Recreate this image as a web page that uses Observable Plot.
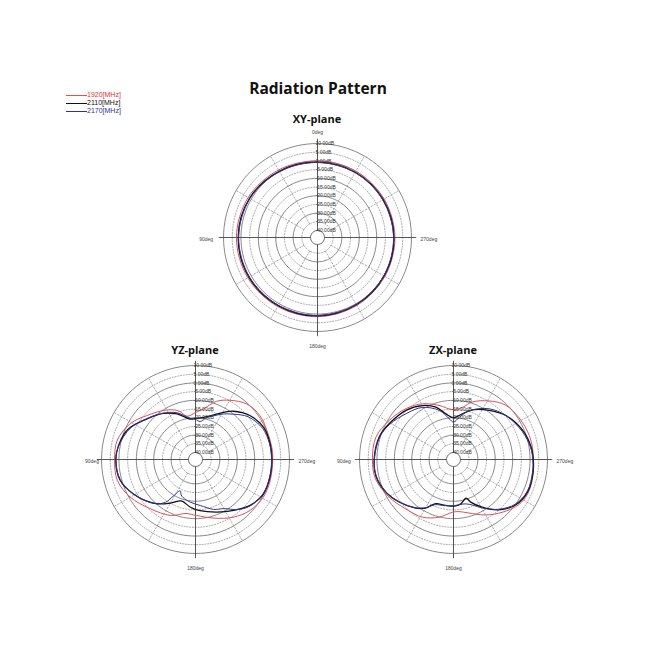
<!DOCTYPE html>
<html><head><meta charset="utf-8">
<script src="https://cdn.jsdelivr.net/npm/d3@7"></script>
<script src="https://cdn.jsdelivr.net/npm/@observablehq/plot@0.6"></script>
<style>
body{margin:0;background:#fff;font-family:"Open Sans","Noto Sans",sans-serif;}
#page{position:relative;width:650px;height:650px;overflow:hidden;background:#fff;}
.abs{position:absolute;}
.ptitle{position:absolute;font-weight:700;font-size:11px;color:#111;transform:translateX(-50%);white-space:nowrap;}
</style></head><body><div id="page"></div>
<script>
// ---------- data ----------
const chartTitle = "Radiation Pattern";
const freqLabels = ["1920[MHz]", "2110[MHz]", "2170[MHz]"];
const ringLevels = [10, 5, 0, -5, -10, -15, -20, -25, -30, -35, -40];
const spokeAngles = [30, 60, 120, 150, 210, 240, 300, 330];
const axisAngles = [0, 90, 180, 270];
const degLabels = ["0deg", "90deg", "180deg", "270deg"];
const planeNames = ["XY-plane", "YZ-plane", "ZX-plane"];

// XY-plane (angle in deg, gain in dB)
const xyDeg  = [0, 30, 60, 90, 120, 150, 180, 210, 240, 270, 300, 330];
const xy1920 = [0.0, 0.8, 2.0, 2.6, 2.3, 1.8, 1.5, 1.1, 0.7, 0.5, 0.2, 0.0];
const xy2110 = [-0.7, -0.1, 1.1, 1.6, 1.5, 1.2, 1.0, 0.6, 0.2, -0.1, -0.5, -0.7];
const xy2170 = [-0.9, -0.3, 0.8, 1.3, 1.2, 1.0, 0.8, 0.4, 0.0, -0.3, -0.7, -0.9];

// YZ-plane
const yz1920Deg = [0, 11, 19, 30, 48, 61, 76, 90, 105, 120, 137, 156, 170, 181, 197, 213, 227, 241, 254, 270, 279, 292, 304, 317, 330, 340, 351];
const yz1920    = [-17, -18.7, -14.5, -11.1, -6.3, -1.3, 2.3, 2.5, 2.5, -0.7, -5.5, -8.8, -12.5, -11.8, -8.8, -4.4, -1.1, 0.6, 0.6, 0.4, 0.4, 0.3, 0.8, -0.5, -4.7, -8.4, -14.5];
const yz2110Deg = [0, 8, 22, 35, 50, 64, 70, 80, 90, 105, 119, 137, 150, 161, 174, 185, 202, 217, 230, 243, 257, 270, 282, 295, 309, 322, 329, 345];
const yz2110    = [-20.5, -20.5, -15.7, -11.7, -7.6, -2.1, -0.5, 1.0, 1.8, 1.0, -3.2, -9.5, -15.0, -18.8, -16.4, -14.5, -11.4, -7.4, -3.0, -0.2, 0.0, -0.1, -0.2, -0.7, -3.8, -8.8, -12.4, -18.5];
const yz2170Deg = [0, 8, 22, 35, 50, 64, 80, 90, 105, 119, 137, 145, 149, 154, 158, 162, 173, 186, 200, 210, 220, 229, 243, 257, 270, 282, 295, 309, 320, 329, 338, 345, 353];
const yz2170    = [-21, -20, -15, -11.5, -7.5, -2.5, 0.8, 1.8, 0.8, -3.2, -9.5, -14, -19.7, -24, -22, -21, -19.3, -17.4, -13.5, -11.4, -6.5, -3.0, -0.5, -0.2, -0.3, -0.5, -1.5, -5.0, -10, -13.5, -17, -19, -22];

// ZX-plane
const zx1920Deg = [0, 15, 29, 43, 59, 74, 90, 104, 120, 136, 152, 166, 179, 186, 196, 210, 223, 235, 245, 258, 270, 284, 298, 316, 329, 342, 350];
const zx1920    = [-15.5, -11.8, -7.4, -4.0, -0.7, 2.4, 2.6, 2.2, -1.1, -4.5, -6.4, -9.9, -13.7, -13.9, -12.0, -7.2, -2.6, 1.5, 3.0, 2.6, 2.0, 1.8, 1.0, -0.7, -4.7, -9.3, -13.5];
const zx2110Deg = [0, 9.5, 18.6, 30, 44, 61, 73, 90, 102, 116, 128, 142, 150, 158, 170, 181, 189, 198, 202, 211, 222, 234, 247, 261, 270, 279, 293, 310, 324, 339, 349];
const zx2110    = [-20, -17.4, -12.2, -8.2, -4.7, -1.7, 0.6, 1.6, 1.6, -0.9, -4.3, -8.6, -11.8, -16.6, -17.2, -17.2, -18.1, -20.6, -17.6, -12, -5.1, 0.3, 2.5, 2.3, 1.8, 1.2, -0.9, -4.7, -9.1, -13.4, -17.2];
const zx2170Deg = [0, 6, 16, 31, 46, 61, 73, 90, 102, 116, 128, 142, 150, 158, 169, 181, 195, 203, 211, 222, 234, 247, 261, 270, 279, 292, 310, 325, 342, 352];
const zx2170    = [-22.5, -20.4, -14.7, -9.1, -6.1, -2.2, 0.3, 1.5, 1.4, -1.0, -4.5, -8.8, -12, -16, -17, -17.5, -17.6, -15.5, -11.4, -5.5, -0.2, 2.2, 2.0, 1.6, 0.8, -1.3, -4.7, -8.4, -14.5, -19.5];

// ---------- styles ----------
const colors = ["#e0505a", "#111111", "#2b3595"];
const widths = [1, 1.3, 1];

// ---------- helpers ----------
const K = 1.74;          // px per dB
const R0 = 4;            // inner offset (dB units) so the -40 dB ring sits a few px from centre
const S = 260;           // svg size
const half = S / 2 / K;  // domain half-extent in rho units
const rho = dB => dB + 40 + R0;
const toXY = (deg, r) => ({x: -r * Math.sin(deg * Math.PI / 180), y: r * Math.cos(deg * Math.PI / 180)});
const circleSteps = d3.range(0, 360, 3);
const ringLabels = ringLevels.map(v => v.toFixed(2) + "dB");

function series(degs, vals) {
  return degs.map((d, i) => toXY(d, rho(vals[i])));
}

function polar(curves, showTop, leftGap, rightGap) {
  const outer = rho(10);
  const rings = ringLevels.flatMap(lv => circleSteps.map(a => ({...toXY(a, rho(lv)), lv})));
  const solidRings = rings.filter(d => d.lv % 10 === 0 && d.lv !== -40);
  const dotRings = rings.filter(d => d.lv % 10 !== 0);
  const inner = circleSteps.map(a => toXY(a, rho(-40)));
  const spokes = spokeAngles.flatMap(a => [{...toXY(a, rho(-35)), a}, {...toXY(a, outer), a}]);
  const axes = axisAngles.flatMap(a => [{...toXY(a, 0), a}, {...toXY(a, outer + 2.5), a}]);
  const labelPts = ringLevels.map((lv, i) => ({...toXY(0, rho(lv)), t: ringLabels[i]}));
  const degPts = [
    {...toXY(0, outer + 7.5), t: degLabels[0], anchor: "middle"},
    {...toXY(90, outer + leftGap), t: degLabels[1], anchor: "end"},
    {...toXY(180, outer + 7.5), t: degLabels[2], anchor: "middle"},
    {...toXY(270, outer + rightGap), t: degLabels[3], anchor: "start"}
  ].filter((d, i) => showTop || i !== 0);
  const marks = [
    Plot.line(solidRings, {x: "x", y: "y", z: "lv", curve: "linear-closed", stroke: "#6a6a6a", strokeWidth: 0.8}),
    Plot.line(dotRings, {x: "x", y: "y", z: "lv", curve: "linear-closed", stroke: "#8a8a8a", strokeWidth: 0.7, strokeDasharray: "1.2,1.6"}),
    Plot.line(spokes, {x: "x", y: "y", z: "a", stroke: "#8a8a8a", strokeWidth: 0.7, strokeDasharray: "1.5,1.8"}),
    Plot.line(axes, {x: "x", y: "y", z: "a", stroke: "#444", strokeWidth: 0.9})
  ];
  curves.forEach((c, i) => {
    marks.push(Plot.line(c, {x: "x", y: "y", curve: "catmull-rom-closed", stroke: colors[i], strokeWidth: widths[i]}));
  });
  marks.push(
    Plot.line(inner, {x: "x", y: "y", curve: "linear-closed", fill: "white", stroke: "#444", strokeWidth: 0.9}),
    Plot.text(labelPts, {x: "x", y: "y", text: "t", textAnchor: "start", dx: -2, dy: 0, fontSize: 5, fill: "#333"}),
    Plot.text(degPts, {x: "x", y: "y", text: "t", textAnchor: "anchor", fontSize: 5, fill: "#444", dy: 2})
  );
  return Plot.plot({
    width: S, height: S, margin: 0,
    x: {domain: [-half, half], axis: null},
    y: {domain: [-half, half], axis: null},
    style: {background: "transparent", fontFamily: "Arial, 'Liberation Sans', sans-serif"},
    marks
  });
}

// ---------- layout ----------
const page = document.getElementById("page");
function place(el, left, top) { el.classList.add("abs"); el.style.left = left + "px"; el.style.top = top + "px"; page.appendChild(el); }

const planes = [
  {name: planeNames[0], cx: 317, cy: 237, ty: 111, top: true, lg: 10, rg: 10,
   curves: [series(xyDeg, xy1920), series(xyDeg, xy2110), series(xyDeg, xy2170)]},
  {name: planeNames[1], cx: 195, cy: 459, ty: 342, top: false, lg: 5.5, rg: 10,
   curves: [series(yz1920Deg, yz1920), series(yz2110Deg, yz2110), series(yz2170Deg, yz2170)]},
  {name: planeNames[2], cx: 453, cy: 459, ty: 342, top: false, lg: 9, rg: 10,
   curves: [series(zx1920Deg, zx1920), series(zx2110Deg, zx2110), series(zx2170Deg, zx2170)]}
];
planes.forEach(p => {
  const svg = polar(p.curves, p.top, p.lg, p.rg);
  place(svg, p.cx - S / 2, p.cy - S / 2);
});
planes.forEach(p => {
  const t = document.createElement("div");
  t.className = "ptitle";
  t.textContent = p.name;
  t.style.left = p.cx + "px"; t.style.top = p.ty + "px";
  page.appendChild(t);
});

const title = document.createElement("div");
title.textContent = chartTitle;
title.style.cssText = "position:absolute;left:318px;top:77px;transform:translateX(-50%);font-weight:700;font-size:15.5px;color:#111;white-space:nowrap;";
page.appendChild(title);

const legend = document.createElement("div");
legend.style.cssText = "position:absolute;left:66px;top:91px;font-family:Arial,'Liberation Sans',sans-serif;font-size:7px;line-height:8px;";
freqLabels.forEach((lab, i) => {
  const row = document.createElement("div");
  row.style.cssText = "display:flex;align-items:center;height:8px;";
  const ln = document.createElement("span");
  ln.style.cssText = `display:inline-block;width:21px;height:0;border-top:1px solid ${colors[i]};`;
  const tx = document.createElement("span");
  tx.textContent = lab;
  tx.style.color = i === 0 ? "#e03030" : colors[i];
  row.appendChild(ln); row.appendChild(tx);
  legend.appendChild(row);
});
page.appendChild(legend);
</script></body></html>
